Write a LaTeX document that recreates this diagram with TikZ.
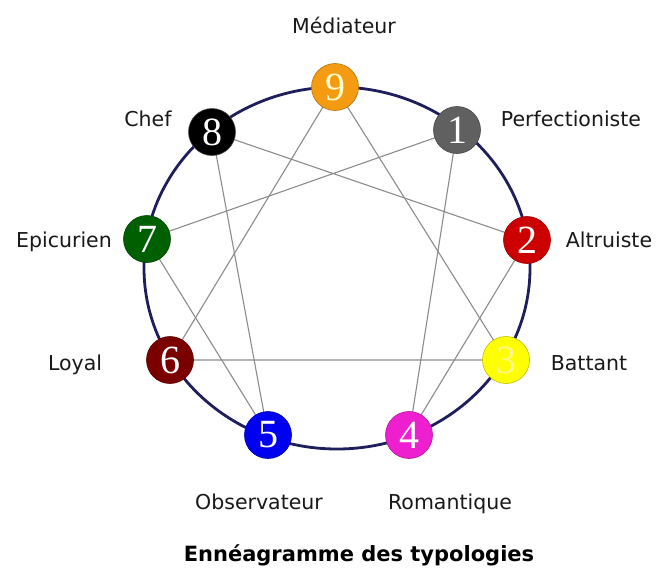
\documentclass[tikz,border=0pt]{standalone}
\usepackage{fontspec}
\setmainfont{DejaVu Sans}
\newfontfamily\digitfont{Liberation Serif}
\definecolor{ringcol}{HTML}{1E1E5A}
\definecolor{chordcol}{HTML}{8C8C8C}
\definecolor{cnine}{HTML}{F59B12}
\definecolor{cone}{HTML}{606060}
\definecolor{ctwo}{HTML}{CC0000}
\definecolor{cthree}{HTML}{FFFF00}
\definecolor{cfour}{HTML}{EE1FCF}
\definecolor{cfive}{HTML}{0000F0}
\definecolor{csix}{HTML}{7A0000}
\definecolor{cseven}{HTML}{005F00}
\definecolor{ceight}{HTML}{000000}
\tikzset{
  typenode/.style={circle, minimum size=47pt, inner sep=0pt, fill=#1, draw=#1!75!black, line width=0.6pt,
    text=white, font=\digitfont\fontsize{40}{40}\selectfont},
  lbl/.style={anchor=base, inner sep=0pt, font=\fontsize{20.5}{24}\selectfont, text=black!90},
  chord/.style={draw=chordcol, line width=1.1pt},
  ring/.style={draw=ringcol, line width=2.8pt}
}
\begin{document}
\begin{tikzpicture}[x=1pt,y=-1pt]
\useasboundingbox[fill=white] (0,0) rectangle (663,574);
% outer ring
\draw[ring] (337,268) ellipse [x radius=193pt, y radius=181pt];
% node positions
\coordinate (p9) at (335,87);
\coordinate (p1) at (457,130);
\coordinate (p2) at (527,240);
\coordinate (p3) at (506,360);
\coordinate (p4) at (409,435);
\coordinate (p5) at (268,435);
\coordinate (p6) at (170,360);
\coordinate (p7) at (147,239);
\coordinate (p8) at (212,132);
% chords
\draw[chord] (p9) -- (p3) -- (p6) -- cycle;
\draw[chord] (p1) -- (p4) -- (p2) -- (p8) -- (p5) -- (p7) -- cycle;
% nodes
\node[typenode=cnine, text=yellow!20!white] (n9) at (p9) {9};
\node[typenode=cone] (n1) at (p1) {1};
\node[typenode=ctwo] (n2) at (p2) {2};
\node[typenode=cthree, text=yellow!45!white] (n3) at (p3) {3};
\node[typenode=cfour] (n4) at (p4) {4};
\node[typenode=cfive] (n5) at (p5) {5};
\node[typenode=csix] (n6) at (p6) {6};
\node[typenode=cseven] (n7) at (p7) {7};
\node[typenode=ceight, draw=black!70] (n8) at (p8) {8};
% labels
\node[lbl] (l9) at (344,33) {Médiateur};
\node[lbl] (l1) at (571,126) {Perfectioniste};
\node[lbl] (l2) at (609,247) {Altruiste};
\node[lbl] (l3) at (589,370) {Battant};
\node[lbl] (l4) at (450,509) {Romantique};
\node[lbl] (l5) at (259,509) {Observateur};
\node[lbl] (l6) at (75,370) {Loyal};
\node[lbl] (l7) at (64,247) {Epicurien};
\node[lbl] (l8) at (148,126) {Chef};
\node[anchor=base, inner sep=0pt, font=\bfseries\fontsize{21}{25}\selectfont] (title) at (359,561) {Ennéagramme des typologies};
\end{tikzpicture}
\end{document}
